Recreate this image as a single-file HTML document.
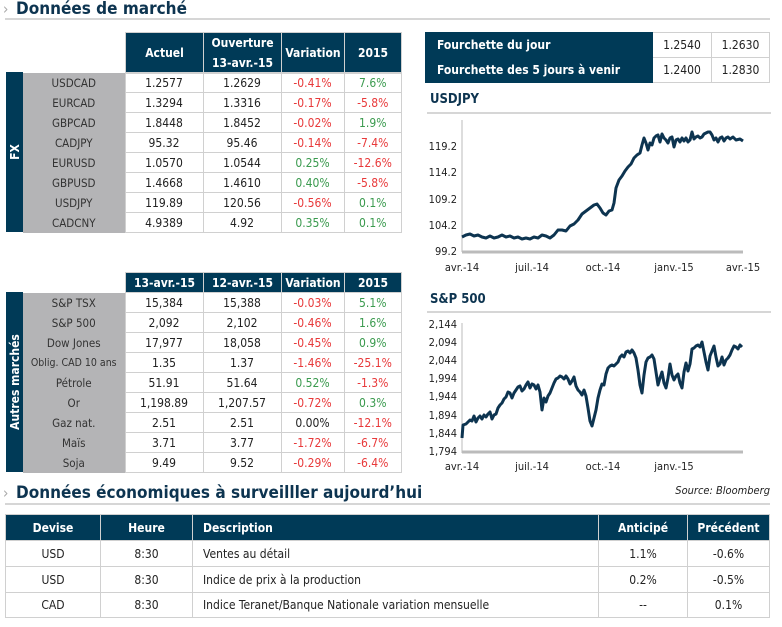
<!DOCTYPE html>
<html><head><meta charset="utf-8">
<style>
*{margin:0;padding:0;box-sizing:border-box}
body{width:782px;height:627px;background:#fff;position:relative;overflow:hidden;font-family:"Liberation Sans Narrow","DejaVu Sans Condensed","Liberation Sans",sans-serif;color:#222}
.a{position:absolute}
.h1{font-weight:bold;font-size:17px;color:#0d3450;font-family:"DejaVu Sans Condensed","Liberation Sans",sans-serif}
.ul{position:absolute;height:2px;background:#d6d6d6}
table{border-collapse:collapse;position:absolute;font-size:12px}
td{text-align:center;border:1px solid #d0d0d0;padding:0;height:20px}
th{background:#003a57;color:#fff;font-weight:bold;border:1px solid #d0d0d0;font-size:12px}
.lab{background:#b4b4b6;border:none;color:#333;font-size:11.5px;white-space:nowrap}
.r{color:#e8393a}.g{color:#3a9a4e}
.strip{position:absolute;background:#003a57;color:#fff;font-size:12px;font-weight:bold}
.strip span{position:absolute;left:50%;top:50%;transform:translate(-50%,-50%) rotate(-90deg);white-space:nowrap}
.ct{font-weight:bold;font-size:13px;color:#0d3450;font-family:"DejaVu Sans Condensed","Liberation Sans",sans-serif}
svg text{font-family:"Liberation Sans Narrow","DejaVu Sans Condensed",sans-serif;font-size:11px;fill:#222}
</style></head><body>
<div class="a" style="left:3px;top:0;color:#aaa;font-size:15px">›</div>
<div class="a h1" style="left:16px;top:-1px">Données de marché</div>
<div class="ul" style="left:5px;top:18px;width:765px"></div>

<table style="left:125px;top:32px;width:277px">
<tr style="height:40px"><th style="width:78px">Actuel</th><th style="width:78px;line-height:20px">Ouverture<br>13-avr.-15</th><th style="width:63px">Variation</th><th>2015</th></tr>
</table>
<div class="strip" style="left:6px;top:72px;width:17px;height:160px"><span>FX</span></div>
<table style="left:23px;top:72px;width:379px">
<tr><td class="lab" style="width:102px">USDCAD</td><td style="width:78px">1.2577</td><td style="width:78px">1.2629</td><td class="r" style="width:63px">-0.41%</td><td class="g">7.6%</td></tr>
<tr><td class="lab">EURCAD</td><td>1.3294</td><td>1.3316</td><td class="r">-0.17%</td><td class="r">-5.8%</td></tr>
<tr><td class="lab">GBPCAD</td><td>1.8448</td><td>1.8452</td><td class="r">-0.02%</td><td class="g">1.9%</td></tr>
<tr><td class="lab">CADJPY</td><td>95.32</td><td>95.46</td><td class="r">-0.14%</td><td class="r">-7.4%</td></tr>
<tr><td class="lab">EURUSD</td><td>1.0570</td><td>1.0544</td><td class="g">0.25%</td><td class="r">-12.6%</td></tr>
<tr><td class="lab">GBPUSD</td><td>1.4668</td><td>1.4610</td><td class="g">0.40%</td><td class="r">-5.8%</td></tr>
<tr><td class="lab">USDJPY</td><td>119.89</td><td>120.56</td><td class="r">-0.56%</td><td class="g">0.1%</td></tr>
<tr><td class="lab">CADCNY</td><td>4.9389</td><td>4.92</td><td class="g">0.35%</td><td class="g">0.1%</td></tr>
</table>

<table style="left:125px;top:272px;width:277px">
<tr style="height:20px"><th style="width:78px">13-avr.-15</th><th style="width:78px">12-avr.-15</th><th style="width:63px">Variation</th><th>2015</th></tr>
</table>
<div class="strip" style="left:6px;top:292px;width:17px;height:180px"><span>Autres marchés</span></div>
<table style="left:23px;top:292px;width:379px">
<tr><td class="lab" style="width:102px">S&amp;P TSX</td><td style="width:78px">15,384</td><td style="width:78px">15,388</td><td class="r" style="width:63px">-0.03%</td><td class="g">5.1%</td></tr>
<tr><td class="lab">S&amp;P 500</td><td>2,092</td><td>2,102</td><td class="r">-0.46%</td><td class="g">1.6%</td></tr>
<tr><td class="lab">Dow Jones</td><td>17,977</td><td>18,058</td><td class="r">-0.45%</td><td class="g">0.9%</td></tr>
<tr><td class="lab" style="font-size:10.5px">Oblig. CAD 10 ans</td><td>1.35</td><td>1.37</td><td class="r">-1.46%</td><td class="r">-25.1%</td></tr>
<tr><td class="lab">Pétrole</td><td>51.91</td><td>51.64</td><td class="g">0.52%</td><td class="r">-1.3%</td></tr>
<tr><td class="lab">Or</td><td>1,198.89</td><td>1,207.57</td><td class="r">-0.72%</td><td class="g">0.3%</td></tr>
<tr><td class="lab">Gaz nat.</td><td>2.51</td><td>2.51</td><td>0.00%</td><td class="r">-12.1%</td></tr>
<tr><td class="lab">Maïs</td><td>3.71</td><td>3.77</td><td class="r">-1.72%</td><td class="r">-6.7%</td></tr>
<tr><td class="lab">Soja</td><td>9.49</td><td>9.52</td><td class="r">-0.29%</td><td class="r">-6.4%</td></tr>
</table>

<table style="left:425px;top:32px;width:345px">
<tr style="height:25px"><th style="text-align:left;padding-left:11px;width:227px;border-color:#003a57">Fourchette du jour</th><td style="width:59px;height:25px">1.2540</td><td>1.2630</td></tr>
<tr style="height:25px"><th style="text-align:left;padding-left:11px;border-color:#003a57">Fourchette des 5 jours à venir</th><td style="height:25px">1.2400</td><td>1.2830</td></tr>
</table>

<div class="a ct" style="left:430px;top:92px">USDJPY</div>
<div class="ul" style="left:427px;top:112px;width:344px"></div>
<div class="a ct" style="left:430px;top:292px">S&amp;P 500</div>
<div class="ul" style="left:427px;top:311px;width:344px"></div>

<svg class="a" style="left:0;top:0" width="782" height="627">
<g stroke="#bbb" stroke-width="1">
<line x1="462" y1="120" x2="462" y2="252"/><line x1="462" y1="252" x2="743" y2="252" stroke-width="3"/>
<line x1="462" y1="323" x2="462" y2="453"/><line x1="462" y1="452" x2="743" y2="452" stroke-width="3"/>
</g>
<g text-anchor="end">
<text x="457" y="150">119.2</text><text x="457" y="176">114.2</text><text x="457" y="203">109.2</text><text x="457" y="229">104.2</text><text x="457" y="255">99.2</text>
<text x="457" y="328">2,144</text><text x="457" y="346">2,094</text><text x="457" y="364">2,044</text><text x="457" y="382">1,994</text><text x="457" y="400">1,944</text><text x="457" y="419">1,894</text><text x="457" y="437">1,844</text><text x="457" y="455">1,794</text>
</g>
<g text-anchor="middle">
<text x="462" y="271">avr.-14</text><text x="532" y="271">juil.-14</text><text x="603" y="271">oct.-14</text><text x="674" y="271">janv.-15</text><text x="743" y="271">avr.-15</text>
<text x="462" y="470">avr.-14</text><text x="532" y="470">juil.-14</text><text x="603" y="470">oct.-14</text><text x="674" y="470">janv.-15</text>
</g>
<polyline fill="none" stroke="#0d3450" stroke-width="3" stroke-linejoin="round" points="462,237 466,235 470,234 474,236 478,235 482,237 486,238 490,236 494,238 498,237 502,235 506,237 510,236 514,238 518,237 522,239 526,238 530,239 534,237 538,238 542,235 546,236 550,238 554,235 558,230 562,230 566,231 570,226 574,224 578,220 582,214 586,211 590,208 594,205 597,204 600,208 603,213 606,215 609,211 612,210 614,203 616,188 619,180 622,176 625,171 628,167 631,164 634,158 637,155 640,153 642,145 644,138 646,143 648,150 650,143 652,145 654,138 656,136 658,135 660,142 662,134 664,138 666,140 668,143 670,138 672,137 674,147 676,140 678,139 680,142 682,138 684,141 686,138 688,142 690,140 692,132 694,139 696,137 698,136 700,138 702,137 704,134 706,133 708,132 710,132 712,135 714,140 716,138 718,142 720,138 722,137 724,141 726,138 728,137 730,139 733,137 736,140 740,139 743,141"/>
<polyline fill="none" stroke="#0d3450" stroke-width="3" stroke-linejoin="round" points="462,438 463,425 466,424 470,420 472,421 474,416 476,422 478,418 480,416 482,419 484,415 486,417 488,414 490,412 492,419 494,415 496,414 498,408 500,405 502,403 504,399 506,397 508,392 510,393 512,398 514,393 516,390 518,387 520,386 522,391 524,389 526,385 528,382 530,388 532,384 534,385 536,389 538,385 540,392 542,410 544,398 546,402 548,396 550,393 552,388 554,383 556,379 558,378 560,376 562,377 564,379 566,376 568,379 570,384 572,381 574,377 576,386 578,390 580,392 582,395 584,390 586,396 588,408 590,421 592,426 594,418 596,410 598,398 600,390 602,384 604,385 606,374 608,368 610,366 612,365 614,366 616,364 618,362 620,357 622,355 624,357 626,352 628,351 630,353 632,350 634,353 636,358 638,370 640,385 642,393 644,375 646,362 648,358 650,357 652,355 654,359 656,372 658,385 660,378 662,372 664,383 666,388 668,378 670,364 672,375 674,380 676,376 678,374 680,383 682,388 684,372 686,363 688,371 690,364 692,349 694,348 696,346 698,345 700,347 702,342 704,352 706,362 708,370 710,356 712,351 714,346 716,357 718,366 720,364 722,357 724,365 726,360 728,358 730,355 732,350 734,346 736,347 738,349 740,345 742,347"/>
</svg>
<div class="a" style="right:12px;top:484px;font-size:11px;font-style:italic;color:#222">Source: Bloomberg</div>

<div class="a" style="left:3px;top:484px;color:#aaa;font-size:15px">›</div>
<div class="a h1" style="left:16px;top:483px">Données économiques à surveilller aujourd’hui</div>
<div class="ul" style="left:5px;top:503px;width:765px"></div>

<table style="left:5px;top:514px;width:765px;font-size:12px">
<tr style="height:26px"><th style="width:95px">Devise</th><th style="width:92px">Heure</th><th style="width:406px;text-align:left;padding-left:10px">Description</th><th style="width:89px">Anticipé</th><th>Précédent</th></tr>
<tr><td style="height:26px">USD</td><td>8:30</td><td style="text-align:left;padding-left:10px">Ventes au détail</td><td>1.1%</td><td>-0.6%</td></tr>
<tr><td style="height:26px">USD</td><td>8:30</td><td style="text-align:left;padding-left:10px">Indice de prix à la production</td><td>0.2%</td><td>-0.5%</td></tr>
<tr><td style="height:25px">CAD</td><td>8:30</td><td style="text-align:left;padding-left:10px">Indice Teranet/Banque Nationale variation mensuelle</td><td>--</td><td>0.1%</td></tr>
</table>
</body></html>
